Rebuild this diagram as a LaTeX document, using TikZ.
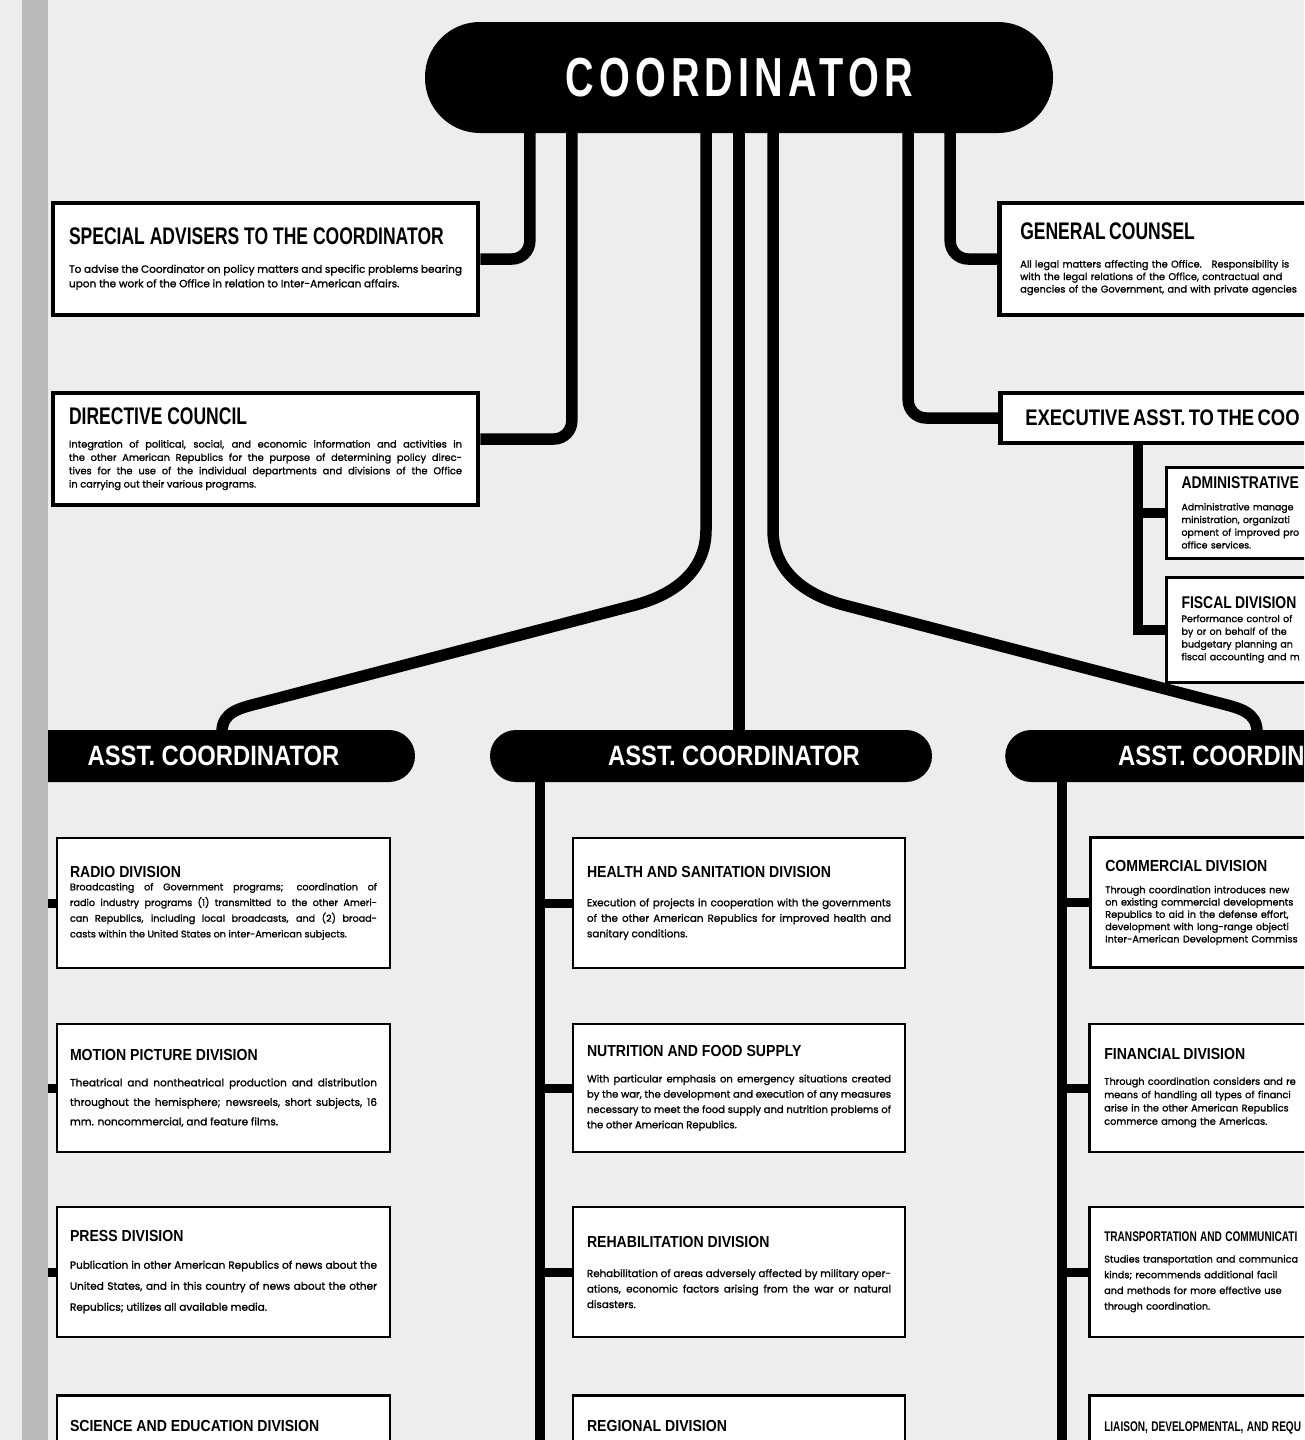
\documentclass[tikz,border=0pt]{standalone}
\usepackage{fontspec}
\usepackage{tikz}
\usetikzlibrary{positioning,calc}

\newfontfamily\headfont[FakeStretch=0.73]{Liberation Sans}
\newfontfamily\divfont[FakeStretch=0.88]{Liberation Sans}
\newfontfamily\thinfont[FakeStretch=0.72]{Liberation Sans}
\newfontfamily\sidefont[FakeStretch=0.82]{Liberation Sans}
\newfontfamily\pillfont[FakeStretch=0.85]{Liberation Sans}
\newfontfamily\bigfont[FakeStretch=0.72,LetterSpace=9.4]{Liberation Sans}
\newfontfamily\bodyfont[FakeBold=1.4]{Poppins}

\newcommand{\jline}[1]{\hbox to\linewidth{#1}}
\newcommand{\tophead}[1]{{\headfont\bfseries\fontsize{24}{26}\selectfont #1\par}}
\newcommand{\divhead}[1]{{\divfont\bfseries\fontsize{16}{18}\selectfont #1\par}}
\newcommand{\thinhead}[1]{{\thinfont\bfseries\fontsize{14}{17}\selectfont #1\par}}
\newcommand{\smallhead}[1]{{\sidefont\bfseries\fontsize{17}{19}\selectfont #1\par}}
% size, line skip, gap after the heading, lines
\newcommand{\divbody}[4]{\vspace{#3pt}{\bodyfont\fontsize{#1}{#2}\selectfont #4\par}}

\begin{document}
\begin{tikzpicture}[x=1pt,y=-1pt,
    wire/.style={line width=11.5pt},
    spine/.style={line width=10pt},
    stub/.style={line width=9pt},
    pill/.style={fill=black, text=white, rounded corners=26pt, minimum height=52pt, inner sep=0pt,
        font=\pillfont\bfseries\fontsize{28}{30}\selectfont},
    topbox/.style={draw, line width=4.5pt, fill=white, inner xsep=16pt, inner ysep=0pt,
        text width=393pt, align=justify, minimum height=112pt},
    sidebox/.style={draw, line width=4.5pt, fill=white, anchor=west, inner xsep=21pt, inner ysep=0pt,
        text width=420pt, align=left, minimum height=112pt},
    divbox/.style={draw, line width=2.5pt, fill=white, inner xsep=13pt, inner ysep=0pt,
        text width=307pt, align=justify, minimum height=130pt},
    rbox/.style={draw, line width=2.5pt, fill=white, anchor=west, inner xsep=15pt, inner ysep=0pt,
        text width=400pt, align=left, minimum height=130pt}]

    % Page
    \useasboundingbox (0,0) rectangle (1304,1440);
    \clip (0,0) rectangle (1304,1440);
    \fill[black!7] (0,0) rectangle (1304,1440);

    % Coordinator
    \node[fill=black, text=white, rounded corners=55pt, minimum width=628pt, minimum height=111pt,
        font=\bigfont\bfseries\fontsize{55}{60}\selectfont] (coord) at (739,77.5) {COORDINATOR};

    % Staff offices
    \node[topbox] (adv) at (265.5,259) {\tophead{SPECIAL ADVISERS TO THE COORDINATOR}%
        \divbody{10.5}{14.5}{13.5}{\jline{To advise the Coordinator on policy matters and specific problems bearing}%
        \hbox{upon the work of the Office in relation to Inter-American affairs.}}};
    \node[topbox] (dir) at (265.5,449) {\tophead{DIRECTIVE COUNCIL}%
        \divbody{9.8}{13.3}{9.7}{\jline{Integration of political, social, and economic information and activities in}%
        \jline{the other American Republics for the purpose of determining policy direc-}%
        \jline{tives for the use of the individual departments and divisions of the Office}%
        \hbox{in carrying out their various programs.}}};
    \node[sidebox] (gc) at (997,259) {\tophead{GENERAL COUNSEL}%
        \divbody{9.8}{12.5}{15.5}{\hbox{All legal matters affecting the Office.\quad Responsibility is}%
        \hbox{with the legal relations of the Office, contractual and}%
        \hbox{agencies of the Government, and with private agencies}}};
    \node[sidebox, minimum height=50pt, inner xsep=25pt] (exec) at (998,418)
        {{\sidefont\bfseries\fontsize{22.5}{25}\selectfont EXECUTIVE ASST. TO THE COO}};
    \node[rbox, line width=3pt, minimum height=91pt] (adm) at (1165,512.5) {\smallhead{ADMINISTRATIVE}%
        \divbody{9.4}{12.7}{9.3}{\hbox{Administrative manage}\hbox{ministration, organizati}%
        \hbox{opment of improved pro}\hbox{office services.}}};
    \node[rbox, line width=3pt, minimum height=105pt] (fisc) at (1165,629.5) {\smallhead{FISCAL DIVISION}%
        \divbody{9.5}{12.7}{1.3}{\hbox{Performance control of}\hbox{by or on behalf of the}%
        \hbox{budgetary planning an}\hbox{fiscal accounting and m}}};

    % Assistant coordinators
    \node[pill, minimum width=393pt] (acL) at (218.5,756) {ASST. COORDINATOR\kern10pt};
    \node[pill, minimum width=442pt] (acC) at (711,756) {\kern46pt ASST. COORDINATOR};
    \node[pill, anchor=west, inner xsep=113pt] (acR) at (1005,756) {ASST. COORDIN};

    % Divisions, left
    \node[divbox] (radio) at (223.5,903) {\divhead{RADIO DIVISION}%
        \divbody{9.6}{15.7}{-2.7}{\jline{Broadcasting of Government programs; coordination of}%
        \jline{radio industry programs (1) transmitted to the other Ameri-}%
        \jline{can Republics, including local broadcasts, and (2) broad-}%
        \hbox{casts within the United States on inter-American subjects.}}};
    \node[divbox, minimum height=128pt] (motion) at (223.5,1088) {\divhead{MOTION PICTURE DIVISION}%
        \divbody{10.5}{19.5}{6.5}{\jline{Theatrical and nontheatrical production and distribution}%
        \jline{throughout the hemisphere; newsreels, short subjects, 16}%
        \hbox{mm. noncommercial, and feature films.}}};
    \node[divbox] (press) at (223.5,1272) {\divhead{PRESS DIVISION}%
        \divbody{10.5}{21}{6}{\jline{Publication in other American Republics of news about the}%
        \jline{United States, and in this country of news about the other}%
        \hbox{Republics; utilizes all available media.}}};
    \node[divbox, anchor=north, minimum height=0pt, inner ysep=25.5pt] (sci) at (223.5,1394)
        {\divhead{SCIENCE AND EDUCATION DIVISION}};

    % Divisions, centre
    \node[divbox, text width=304pt, inner xsep=14pt] (health) at (739,903) {\divhead{HEALTH AND SANITATION DIVISION}%
        \divbody{10.3}{15.5}{13.5}{\jline{Execution of projects in cooperation with the governments}%
        \jline{of the other American Republics for improved health and}%
        \hbox{sanitary conditions.}}};
    \node[divbox, text width=304pt, inner xsep=14pt, minimum height=128pt] (nutr) at (739,1088) {\divhead{NUTRITION AND FOOD SUPPLY}%
        \divbody{10}{15.3}{10.7}{\jline{With particular emphasis on emergency situations created}%
        \jline{by the war, the development and execution of any measures}%
        \jline{necessary to meet the food supply and nutrition problems of}%
        \hbox{the other American Republics.}}};
    \node[divbox, text width=304pt, inner xsep=14pt] (rehab) at (739,1272) {\divhead{REHABILITATION DIVISION}%
        \divbody{10.3}{15.5}{14.5}{\jline{Rehabilitation of areas adversely affected by military oper-}%
        \jline{ations, economic factors arising from the war or natural}%
        \hbox{disasters.}}};
    \node[divbox, text width=304pt, inner xsep=14pt, anchor=north, minimum height=0pt, inner ysep=25.5pt] (regional)
        at (739,1394) {\divhead{REGIONAL DIVISION}};

    % Divisions, right
    \node[rbox] (comm) at (1089,902.5) {\divhead{COMMERCIAL DIVISION}%
        \divbody{9.7}{12.3}{9.7}{\hbox{Through coordination introduces new}\hbox{on existing commercial developments}%
        \hbox{Republics to aid in the defense effort,}\hbox{development with long-range objecti}%
        \hbox{Inter-American Development Commiss}}};
    \node[rbox, minimum height=128pt] (fin) at (1088,1088) {\divhead{FINANCIAL DIVISION}%
        \divbody{9.7}{13.3}{11.7}{\hbox{Through coordination considers and re}\hbox{means of handling all types of financi}%
        \hbox{arise in the other American Republics}\hbox{commerce among the Americas.}}};
    \node[rbox] (trans) at (1088,1272) {\thinhead{TRANSPORTATION AND COMMUNICATI}%
        \divbody{9.7}{15.7}{5.3}{\hbox{Studies transportation and communica}\hbox{kinds; recommends additional facil}%
        \hbox{and methods for more effective use}\hbox{through coordination.}}};
    \node[rbox, anchor=north west, minimum height=0pt, inner ysep=26pt] (liaison) at (1088,1394)
        {\thinhead{LIAISON, DEVELOPMENTAL, AND REQU}};

    % Lines from the coordinator
    \draw[wire, rounded corners=18pt] ([xshift=105pt]coord.south west) |- (adv.east);
    \draw[wire, rounded corners=18pt] ([xshift=147pt]coord.south west) |- ([yshift=10pt]dir.east);
    \draw[wire, rounded corners=18pt] ([xshift=-103pt]coord.south east) |- (gc.west);
    \draw[wire, rounded corners=18pt] ([xshift=-145pt]coord.south east) |- (exec.west);
    \draw[wire] (coord.south) -- (coord.south |- acC.north);

    \coordinate (lTurn) at (706,530);
    \coordinate (lDiag) at (634,605.3);
    \coordinate (lKnee) at (259,703.2);
    \coordinate (lFoot) at (222,732);
    \draw[wire] (lTurn |- coord.south) -- (lTurn) .. controls (706,571) and (674.6,594.7) .. (lDiag)
        -- (lKnee) .. controls (239.6,708.2) and (222,712) .. (lFoot);

    \coordinate (rTurn) at (773,530);
    \coordinate (rDiag) at (845,605.3);
    \coordinate (rKnee) at (1220,703.2);
    \coordinate (rFoot) at (1257,732);
    \draw[wire] (rTurn |- coord.south) -- (rTurn) .. controls (773,571) and (804.4,594.7) .. (rDiag)
        -- (rKnee) .. controls (1239.4,708.2) and (1257,712) .. (rFoot);

    % Executive assistant's divisions
    \draw[spine] ([xshift=140pt]exec.south west) |- (adm.west);
    \draw[spine] ([xshift=140pt]exec.south west) |- (fisc.west);

    % Spines under the assistant coordinators
    \coordinate (lEnd) at (38,1445);
    \coordinate (cEnd) at (540,1445);
    \coordinate (rEnd) at (1062,1445);
    \draw[spine] (acL.south -| lEnd) -- (lEnd);
    \draw[spine] (acC.south -| cEnd) -- (cEnd);
    \draw[spine] (acR.south -| rEnd) -- (rEnd);

    \draw[stub] (radio.west -| lEnd) -- (radio.west);
    \draw[stub] (motion.west -| lEnd) -- (motion.west);
    \draw[stub] (press.west -| lEnd) -- (press.west);
    \draw[stub] (health.west -| cEnd) -- (health.west);
    \draw[stub] (nutr.west -| cEnd) -- (nutr.west);
    \draw[stub] (rehab.west -| cEnd) -- (rehab.west);
    \draw[stub] (comm.west -| rEnd) -- (comm.west);
    \draw[stub] (fin.west -| rEnd) -- (fin.west);
    \draw[stub] (trans.west -| rEnd) -- (trans.west);

    % Binding edge
    \fill[black!27] (22,0) rectangle (48,1440);
\end{tikzpicture}
\end{document}
